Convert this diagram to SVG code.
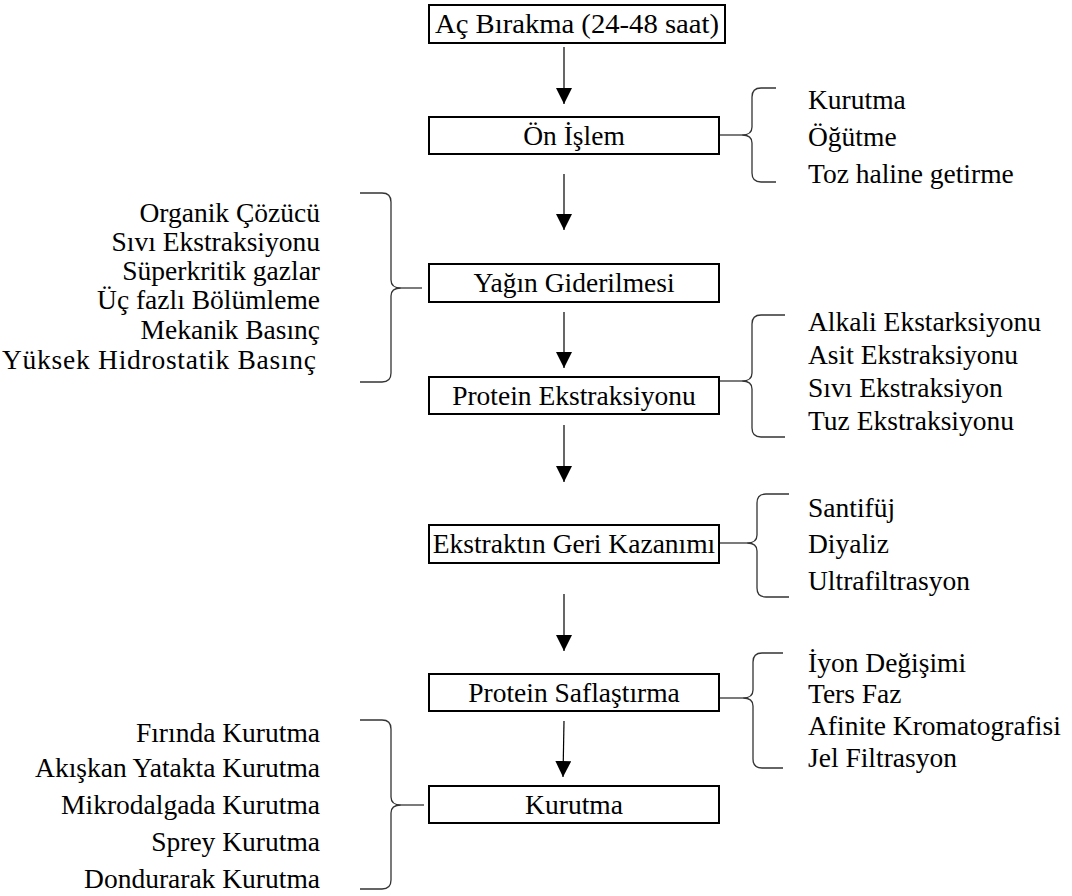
<svg xmlns="http://www.w3.org/2000/svg" width="1072" height="896" viewBox="0 0 1072 896">
<defs>
<style>
text{font-family:"Liberation Serif","Times New Roman",serif;font-size:27.5px;fill:#000}
.box{fill:#fff;stroke:#000;stroke-width:2}
.c{text-anchor:middle}
.r{text-anchor:end}
.br{fill:none;stroke:#333;stroke-width:1.3}
.ar{stroke:#000;stroke-width:1.2;fill:none}
</style>
<marker id="ah" markerUnits="userSpaceOnUse" markerWidth="17" markerHeight="16" refX="16" refY="8" orient="auto">
<path d="M0,0 L16,8 L0,16 z" fill="#000"/>
</marker>
</defs>
<rect width="1072" height="896" fill="#fff"/>

<g id="n1"><rect class="box" x="429" y="5" width="296" height="38"/><text class="c" x="577" y="33" textLength="284" lengthAdjust="spacingAndGlyphs">Aç Bırakma (24-48 saat)</text></g>
<g id="n2"><rect class="box" x="429" y="117" width="290" height="37"/><text class="c" x="574" y="145">Ön İşlem</text></g>
<g id="n3"><rect class="box" x="429" y="264" width="290" height="38"/><text class="c" x="574" y="292">Yağın Giderilmesi</text></g>
<g id="n4"><rect class="box" x="429" y="377" width="290" height="37"/><text class="c" x="574" y="405">Protein Ekstraksiyonu</text></g>
<g id="n5"><rect class="box" x="429" y="525" width="290" height="38"/><text class="c" x="574" y="553">Ekstraktın Geri Kazanımı</text></g>
<g id="n6"><rect class="box" x="429" y="674" width="290" height="37"/><text class="c" x="574" y="702">Protein Saflaştırma</text></g>
<g id="n7"><rect class="box" x="429" y="786" width="290" height="37"/><text class="c" x="574" y="814">Kurutma</text></g>

<g id="connectors">
<line class="ar" x1="564" y1="47" x2="564" y2="104" marker-end="url(#ah)"/>
<line class="ar" x1="564" y1="174" x2="564" y2="230" marker-end="url(#ah)"/>
<line class="ar" x1="564" y1="312" x2="564" y2="368" marker-end="url(#ah)"/>
<line class="ar" x1="564" y1="425" x2="564" y2="482" marker-end="url(#ah)"/>
<line class="ar" x1="564" y1="594" x2="564" y2="651" marker-end="url(#ah)"/>
<line class="ar" x1="564" y1="721" x2="563" y2="777" marker-end="url(#ah)"/>
</g>

<g id="brace-onislem">
<path class="br" d="M776,88 L761,88 Q752,88 752,97 L752,127 Q752,135 742,135 Q752,135 752,143 L752,173 Q752,182 761,182 L776,182"/>
<line class="br" x1="720" y1="135" x2="742" y2="135"/>
<text x="808" y="109">Kurutma</text>
<text x="808" y="146">Öğütme</text>
<text x="808" y="183">Toz haline getirme</text>
</g>

<g id="brace-yag">
<path class="br" d="M360,193 L382,193 Q391,193 391,202 L391,280 Q391,288 401,288 Q391,288 391,296 L391,373 Q391,382 382,382 L360,382"/>
<line class="br" x1="401" y1="288" x2="422" y2="288"/>
<text class="r" x="320" y="222">Organik Çözücü</text>
<text class="r" x="320" y="251">Sıvı Ekstraksiyonu</text>
<text class="r" x="320" y="280">Süperkritik gazlar</text>
<text class="r" x="320" y="309">Üç fazlı Bölümleme</text>
<text class="r" x="320" y="339">Mekanik Basınç</text>
<text x="2" y="369" textLength="314" lengthAdjust="spacing">Yüksek Hidrostatik Basınç</text>
</g>

<g id="brace-protein">
<path class="br" d="M785,315 L761,315 Q752,315 752,324 L752,373 Q752,381 742,381 Q752,381 752,389 L752,428 Q752,437 761,437 L785,437"/>
<line class="br" x1="720" y1="381" x2="742" y2="381"/>
<text x="808" y="331">Alkali Ekstarksiyonu</text>
<text x="808" y="364">Asit Ekstraksiyonu</text>
<text x="808" y="397">Sıvı Ekstraksiyon</text>
<text x="808" y="430">Tuz Ekstraksiyonu</text>
</g>

<g id="brace-ekstrakt">
<path class="br" d="M789,494 L766,494 Q757,494 757,503 L757,535 Q757,543 747,543 Q757,543 757,551 L757,588 Q757,597 766,597 L789,597"/>
<line class="br" x1="720" y1="543" x2="747" y2="543"/>
<text x="808" y="517">Santifüj</text>
<text x="808" y="553">Diyaliz</text>
<text x="808" y="590">Ultrafiltrasyon</text>
</g>

<g id="brace-saflastirma">
<path class="br" d="M783,653 L762,653 Q753,653 753,662 L753,690 Q753,698 743,698 Q753,698 753,706 L753,759 Q753,768 762,768 L783,768"/>
<line class="br" x1="720" y1="698" x2="743" y2="698"/>
<text x="808" y="672">İyon Değişimi</text>
<text x="808" y="703">Ters Faz</text>
<text x="808" y="735">Afinite Kromatografisi</text>
<text x="808" y="767">Jel Filtrasyon</text>
</g>

<g id="brace-kurutma">
<path class="br" d="M360,720 L382,720 Q391,720 391,729 L391,797 Q391,805 401,805 Q391,805 391,813 L391,880 Q391,889 382,889 L360,889"/>
<line class="br" x1="401" y1="805" x2="424" y2="805"/>
<text class="r" x="320" y="742">Fırında Kurutma</text>
<text class="r" x="320" y="777">Akışkan Yatakta Kurutma</text>
<text class="r" x="320" y="814">Mikrodalgada Kurutma</text>
<text class="r" x="320" y="851">Sprey Kurutma</text>
<text class="r" x="320" y="888">Dondurarak Kurutma</text>
</g>
</svg>
